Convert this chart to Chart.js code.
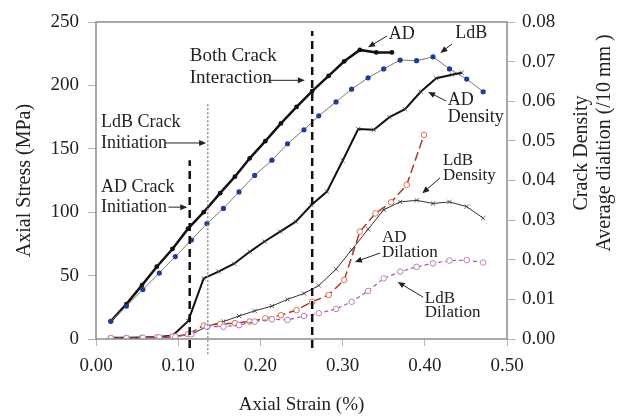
<!DOCTYPE html>
<html>
<head>
<meta charset="utf-8">
<script src="https://cdn.jsdelivr.net/npm/chart.js@4.4.1/dist/chart.umd.min.js"></script>
<style>
  html, body { margin: 0; padding: 0; background: #fff; }
  #wrap { width: 621px; height: 416px; }
</style>
</head>
<body>
<div id="wrap"><canvas id="chart"></canvas></div>
<script>
// strain (%) for each test
const adStrain = [0.018, 0.037, 0.056, 0.074, 0.093, 0.112, 0.131, 0.151, 0.169, 0.187, 0.206, 0.225, 0.244, 0.263, 0.283, 0.302, 0.321, 0.341, 0.360];
const ldbStrain = [0.018, 0.037, 0.057, 0.077, 0.0965, 0.116, 0.135, 0.155, 0.174, 0.193, 0.214, 0.233, 0.253, 0.271, 0.292, 0.311, 0.331, 0.350, 0.370, 0.390, 0.410, 0.430, 0.451, 0.471];
const adDensityStrain = [0.018, 0.037, 0.056, 0.074, 0.093, 0.112, 0.131, 0.149, 0.168, 0.187, 0.205, 0.224, 0.243, 0.262, 0.281, 0.300, 0.319, 0.338, 0.357, 0.376, 0.395, 0.414, 0.433, 0.445];
const adDilationStrain = [0.018, 0.037, 0.056, 0.074, 0.093, 0.112, 0.131, 0.151, 0.169, 0.187, 0.206, 0.225, 0.244, 0.263, 0.283, 0.302, 0.321, 0.340, 0.359, 0.378, 0.399];

// axial stress (MPa)
const adStress = [14, 27.5, 42.5, 57, 71, 87, 100, 115, 128, 142.5, 156, 170, 183, 195.5, 207.5, 219, 228, 226, 226];
const ldbStress = [14, 26, 39, 52, 65, 78, 91, 103, 116, 129, 141, 154, 165, 176, 187, 197, 206, 213, 220, 219.5, 222.5, 213, 205, 195];

// crack density / average dilation (right axis)
const adDensity = [0.0003, 0.0003, 0.0004, 0.0005, 0.0008, 0.0045, 0.0153, 0.0170, 0.0190, 0.0220, 0.0246, 0.0271, 0.0296, 0.0338, 0.0372, 0.0450, 0.0530, 0.0528, 0.0560, 0.0580, 0.0624, 0.0658, 0.0667, 0.0672];
const ldbDensity = [0.0002, 0.0002, 0.0003, 0.0004, 0.0006, 0.0012, 0.0032, 0.0044, 0.0058, 0.0071, 0.0083, 0.0100, 0.0115, 0.0135, 0.0176, 0.0225, 0.0277, 0.0326, 0.0346, 0.0350, 0.0342, 0.0346, 0.0334, 0.0305];
const adDilation = [0.0002, 0.0002, 0.0003, 0.0004, 0.0006, 0.0012, 0.0034, 0.0038, 0.0040, 0.0044, 0.0052, 0.0060, 0.0073, 0.0094, 0.0111, 0.0149, 0.0271, 0.0317, 0.0345, 0.0389, 0.0515];
const ldbDilation = [0.0002, 0.0002, 0.0003, 0.0004, 0.0006, 0.0012, 0.0031, 0.0031, 0.0035, 0.0044, 0.0050, 0.0048, 0.0058, 0.0065, 0.0076, 0.0094, 0.0121, 0.0153, 0.0170, 0.0182, 0.0191, 0.0198, 0.0199, 0.0193];

// crack stage markers: strain, top of line (MPa)
const stageStrain = [0.114, 0.136, 0.263];
const stageTop = [141, 186, 243];
const stageBottom = [-7, -12, -7];

const xTicks = [0, 0.1, 0.2, 0.3, 0.4, 0.5];

const SERIF = "'Liberation Serif', 'Times New Roman', serif";

function pts(xs, ys) {
  return xs.map((x, i) => ({ x: x, y: ys[i] }));
}

function stageLine(i, dash, color, width) {
  return {
    data: [{ x: stageStrain[i], y: stageBottom[i] }, { x: stageStrain[i], y: stageTop[i] }],
    yAxisID: 'y', borderColor: color, borderWidth: width, borderDash: dash,
    pointRadius: 0, clip: false
  };
}

// text labels with arrows, placed in data units (strain, MPa)
const notes = [
  { lines: ['Both Crack', 'Interaction'], x: 0.114, y: [223, 206], size: 19, arrow: [0.209, 204, 0.254, 204] },
  { lines: ['LdB Crack', 'Initiation'], x: 0.006, y: [171, 154.6], size: 18, arrow: [0.084, 154.6, 0.134, 154.6] },
  { lines: ['AD Crack', 'Initiation'], x: 0.006, y: [120, 104], size: 18, arrow: [0.088, 104, 0.111, 104] },
  { lines: ['AD'], x: 0.356, y: [240], size: 18, arrow: [0.354, 239, 0.331, 230] },
  { lines: ['LdB'], x: 0.437, y: [241], size: 18, arrow: [0.433, 232.6, 0.419, 225.6] },
  { lines: ['AD', 'Density'], x: 0.428, y: [188.5, 175], size: 18, arrow: [0.426, 187.7, 0.404, 194.8] },
  { lines: ['LdB', 'Density'], x: 0.422, y: [141, 129], size: 17, arrow: [0.4185, 127, 0.397, 115] },
  { lines: ['AD', 'Dilation'], x: 0.348, y: [79.7, 67.8], size: 17, arrow: [0.3455, 67.8, 0.315, 60.7] },
  { lines: ['LdB', 'Dilation'], x: 0.400, y: [32.3, 20.5], size: 17, arrow: [0.398, 33, 0.367, 45] }
];

const notesPlugin = {
  id: 'notes',
  afterDatasetsDraw(chart) {
    const { ctx, chartArea: a, scales: { x, y } } = chart;
    ctx.save();
    // plot frame
    ctx.strokeStyle = '#8c8c8c';
    ctx.lineWidth = 1.5;
    ctx.strokeRect(a.left, a.top, a.right - a.left, a.bottom - a.top);

    ctx.fillStyle = '#222';
    ctx.textBaseline = 'middle';
    ctx.textAlign = 'left';
    notes.forEach(n => {
      ctx.font = n.size + 'px ' + SERIF;
      n.lines.forEach((t, i) => ctx.fillText(t, x.getPixelForValue(n.x), y.getPixelForValue(n.y[i])));
      const x1 = x.getPixelForValue(n.arrow[0]), y1 = y.getPixelForValue(n.arrow[1]);
      const x2 = x.getPixelForValue(n.arrow[2]), y2 = y.getPixelForValue(n.arrow[3]);
      const ang = Math.atan2(y2 - y1, x2 - x1);
      ctx.strokeStyle = '#222';
      ctx.lineWidth = 1;
      ctx.beginPath();
      ctx.moveTo(x1, y1);
      ctx.lineTo(x2 - 5 * Math.cos(ang), y2 - 5 * Math.sin(ang));
      ctx.stroke();
      ctx.beginPath();
      ctx.moveTo(x2, y2);
      ctx.lineTo(x2 - 7 * Math.cos(ang) + 3 * Math.sin(ang), y2 - 7 * Math.sin(ang) - 3 * Math.cos(ang));
      ctx.lineTo(x2 - 7 * Math.cos(ang) - 3 * Math.sin(ang), y2 - 7 * Math.sin(ang) + 3 * Math.cos(ang));
      ctx.closePath();
      ctx.fill();
    });

    // right axis title, two lines reading bottom to top
    ctx.font = '20px ' + SERIF;
    ctx.textAlign = 'center';
    [['Crack Density', 582, 153], ['Average dialtion (/10 mm )', 605, 143]].forEach(([t, cx, cy]) => {
      ctx.save();
      ctx.translate(cx, cy);
      ctx.rotate(-Math.PI / 2);
      ctx.fillText(t, 0, 0);
      ctx.restore();
    });
    ctx.restore();
  }
};

const tickFont = { family: SERIF, size: 19 };

new Chart(document.getElementById('chart'), {
  type: 'line',
  data: {
    datasets: [
      stageLine(0, [8, 5], '#111', 2.5),
      stageLine(1, [2, 2], '#8a8a8a', 1.5),
      stageLine(2, [8, 5], '#111', 2.5),
      {
        label: 'LdB Dilation', data: pts(ldbStrain, ldbDilation), yAxisID: 'y2',
        borderColor: '#9a5c9e', borderWidth: 1.2, borderDash: [4, 3],
        pointStyle: 'circle', pointRadius: 2.8, pointBorderWidth: 1,
        pointBorderColor: '#c27bc0', pointBackgroundColor: '#fff'
      },
      {
        label: 'AD Dilation', data: pts(adDilationStrain, adDilation), yAxisID: 'y2',
        borderColor: '#a83a30', borderWidth: 1.5, borderDash: [9, 4],
        pointStyle: 'circle', pointRadius: 2.8, pointBorderWidth: 1,
        pointBorderColor: '#e0704a', pointBackgroundColor: '#fff'
      },
      {
        label: 'LdB Density', data: pts(ldbStrain, ldbDensity), yAxisID: 'y2',
        borderColor: '#333', borderWidth: 1,
        pointStyle: 'crossRot', pointRadius: 3, pointBorderWidth: 0.8, pointBorderColor: '#333'
      },
      {
        label: 'AD Density', data: pts(adDensityStrain, adDensity), yAxisID: 'y2',
        borderColor: '#111', borderWidth: 2,
        pointStyle: 'crossRot', pointRadius: 3, pointBorderWidth: 0.8, pointBorderColor: '#444'
      },
      {
        label: 'LdB', data: pts(ldbStrain, ldbStress), yAxisID: 'y',
        borderColor: '#7a7a6a', borderWidth: 1,
        pointRadius: 2.6, pointBorderWidth: 0, pointBackgroundColor: '#1f3c9c'
      },
      {
        label: 'AD', data: pts(adStrain, adStress), yAxisID: 'y',
        borderColor: '#111', borderWidth: 2.5,
        pointRadius: 2.4, pointBorderWidth: 0, pointBackgroundColor: '#111'
      }
    ]
  },
  options: {
    responsive: true,
    maintainAspectRatio: false,
    animation: false,
    layout: { padding: { top: 22, left: 0, right: 0, bottom: 0 } },
    plugins: { legend: { display: false }, tooltip: { enabled: false } },
    elements: { line: { tension: 0, fill: false } },
    scales: {
      x: {
        type: 'linear', min: 0, max: 0.5,
        afterFit: s => { s.height = 77; },
        afterBuildTicks: s => { s.ticks = xTicks.map(v => ({ value: v })); },
        grid: { drawOnChartArea: false, tickLength: 7, color: '#b5b5b5' },
        border: { display: false },
        ticks: { font: tickFont, color: '#222', padding: 9, maxRotation: 0, autoSkip: false, callback: v => v.toFixed(2) },
        title: { display: true, text: 'Axial Strain (%)', font: { family: SERIF, size: 19 }, color: '#222', padding: { top: 0, bottom: 0 } }
      },
      y: {
        position: 'left', min: 0, max: 250,
        afterFit: s => { s.width = 96; },
        grid: { drawOnChartArea: false, tickLength: 8, color: '#b5b5b5' },
        border: { display: false },
        ticks: { stepSize: 50, font: tickFont, color: '#222', padding: 9 },
        title: { display: true, text: 'Axial Stress (MPa)', font: { family: SERIF, size: 20 }, color: '#222', padding: { top: 13, bottom: 0 } }
      },
      y2: {
        position: 'right', min: 0, max: 0.08,
        afterFit: s => { s.width = 114; },
        grid: { drawOnChartArea: false, tickLength: 8, color: '#b5b5b5' },
        border: { display: false },
        ticks: { stepSize: 0.01, font: tickFont, color: '#222', padding: 7, callback: v => v.toFixed(2) }
      }
    }
  },
  plugins: [notesPlugin]
});
</script>
</body>
</html>
